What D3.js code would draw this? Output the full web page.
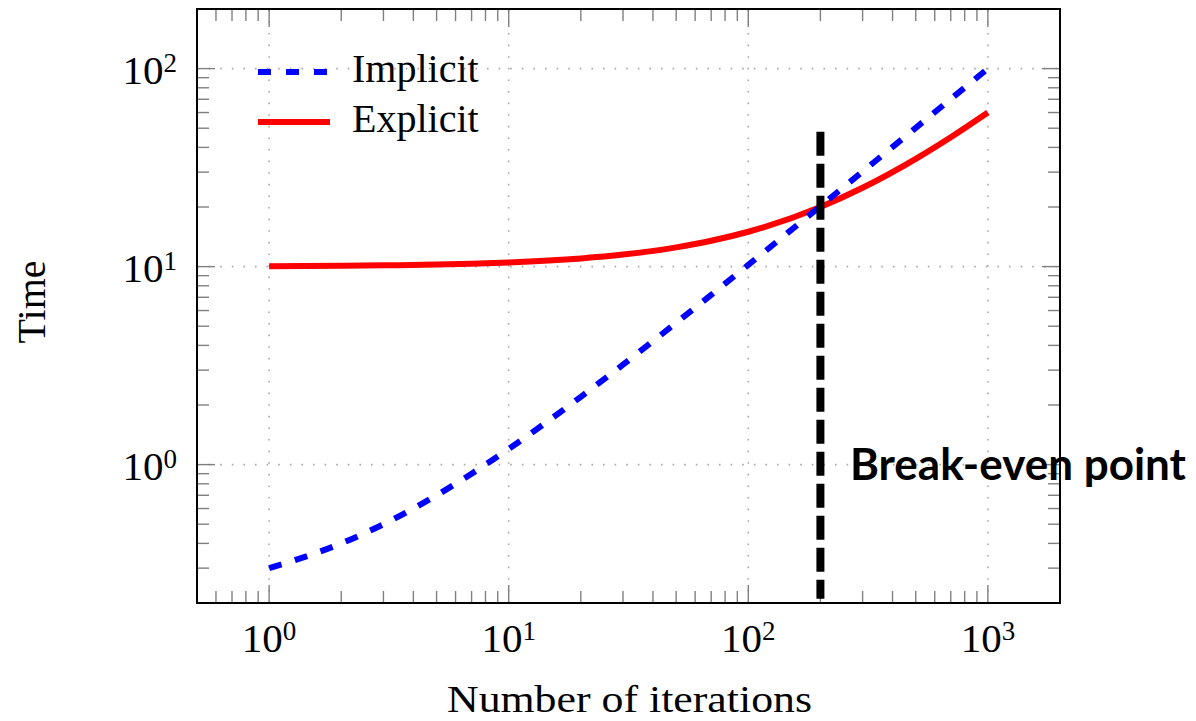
<!DOCTYPE html>
<html>
<head>
<meta charset="utf-8">
<script src="https://cdn.jsdelivr.net/npm/d3@7"></script>
<style>
  body { margin: 0; background: #fff; }
  text { font-family: "Liberation Serif", "DejaVu Serif", serif; fill: #000; }
</style>
</head>
<body>
<script>
// iterations sampled along the x axis
var iterations = [1, 2, 3, 5, 7, 10, 20, 30, 50, 70, 100, 200, 300, 500, 700, 1000];
// time
var implicitTime = [0.3, 0.4, 0.5, 0.7, 0.9, 1.2, 2.2, 3.2, 5.2, 7.2, 10.2, 20.2, 30.2, 50.2, 70.2, 100];
var explicitTime = [10.05, 10.1, 10.15, 10.25, 10.35, 10.5, 11, 11.5, 12.5, 13.5, 15, 20, 25, 35, 45, 60];
// break-even marker
var breakEvenX = [200, 200];
var breakEvenY = [0.21, 48];

var xTicks = [1, 10, 100, 1000];
var xTickExp = ["0", "1", "2", "3"];
var yTicks = [1, 10, 100];
var yTickExp = ["0", "1", "2"];
var seriesNames = ["Implicit", "Explicit"];

var W = 1196, H = 721;
var m = { left: 197, right: 1060, top: 9, bottom: 603 };

var svg = d3.select("body").append("svg")
    .attr("width", W)
    .attr("height", H);

var x = d3.scaleLog().domain([0.5, 2000]).range([m.left, m.right]);
var y = d3.scaleLog().domain([0.2, 200]).range([m.bottom, m.top]);

// minor ticks 2..9 per decade
var xMinor = [], yMinor = [];
[0.1, 1, 10, 100, 1000].forEach(function (d) {
    for (var k = 1; k <= 9; k++) {
        var v = +(d * k).toPrecision(3);
        if (v >= 0.5 && v <= 2000 && xTicks.indexOf(v) < 0) xMinor.push(v);
    }
});
[0.1, 1, 10, 100].forEach(function (d) {
    for (var k = 1; k <= 9; k++) {
        var v = +(d * k).toPrecision(3);
        if (v >= 0.2 && v <= 200 && yTicks.indexOf(v) < 0) yMinor.push(v);
    }
});

// grid
var grid = svg.append("g")
    .attr("stroke", "#a8a8a8")
    .attr("stroke-width", 1.6)
    .attr("stroke-dasharray", "1.6 10");
grid.selectAll(".gx").data(xTicks).enter().append("line")
    .attr("x1", function (d) { return x(d); })
    .attr("x2", function (d) { return x(d); })
    .attr("y1", m.bottom).attr("y2", m.top);
grid.selectAll(".gy").data(yTicks).enter().append("line")
    .attr("y1", function (d) { return y(d); })
    .attr("y2", function (d) { return y(d); })
    .attr("x1", m.left).attr("x2", m.right);

// inner ticks on all sides
var ticks = svg.append("g").attr("stroke", "#808080").attr("stroke-width", 1.4);
function xTickMarks(data, len) {
    ticks.append("g").selectAll("line").data(data).enter().append("line")
        .attr("x1", function (d) { return x(d); })
        .attr("x2", function (d) { return x(d); })
        .attr("y1", m.bottom).attr("y2", m.bottom - len);
    ticks.append("g").selectAll("line").data(data).enter().append("line")
        .attr("x1", function (d) { return x(d); })
        .attr("x2", function (d) { return x(d); })
        .attr("y1", m.top).attr("y2", m.top + len);
}
function yTickMarks(data, len) {
    ticks.append("g").selectAll("line").data(data).enter().append("line")
        .attr("y1", function (d) { return y(d); })
        .attr("y2", function (d) { return y(d); })
        .attr("x1", m.left).attr("x2", m.left + len);
    ticks.append("g").selectAll("line").data(data).enter().append("line")
        .attr("y1", function (d) { return y(d); })
        .attr("y2", function (d) { return y(d); })
        .attr("x1", m.right).attr("x2", m.right - len);
}
xTickMarks(xMinor, 12);
xTickMarks(xTicks, 18);
yTickMarks(yMinor, 12);
yTickMarks(yTicks, 18);

// curves
var line = d3.line()
    .x(function (d) { return x(d[0]); })
    .y(function (d) { return y(d[1]); })
    .curve(d3.curveMonotoneX);

svg.append("path")
    .datum(d3.zip(iterations, explicitTime))
    .attr("d", line)
    .attr("fill", "none")
    .attr("stroke", "#ff0000")
    .attr("stroke-width", 6);

svg.append("path")
    .datum(d3.zip(iterations, implicitTime))
    .attr("d", line)
    .attr("fill", "none")
    .attr("stroke", "#0000ff")
    .attr("stroke-width", 6)
    .attr("stroke-dasharray", "13 14");

// break-even marker
svg.append("path")
    .datum(d3.zip(breakEvenX, breakEvenY).reverse())
    .attr("d", d3.line().x(function (d) { return x(d[0]); }).y(function (d) { return y(d[1]); }))
    .attr("stroke", "#000")
    .attr("stroke-width", 8)
    .attr("stroke-dasharray", "24 8");

// frame
svg.append("rect")
    .attr("x", m.left).attr("y", m.top)
    .attr("width", m.right - m.left).attr("height", m.bottom - m.top)
    .attr("fill", "none")
    .attr("stroke", "#000")
    .attr("stroke-width", 2);

// tick labels
var xl = svg.append("g").selectAll("text").data(xTicks).enter().append("text")
    .attr("x", function (d) { return x(d); })
    .attr("y", 652)
    .attr("text-anchor", "middle")
    .style("font-size", "41px");
xl.append("tspan").text("10");
xl.append("tspan").attr("dy", -12).style("font-size", "27px")
    .text(function (d, i) { return xTickExp[i]; });

var yl = svg.append("g").selectAll("text").data(yTicks).enter().append("text")
    .attr("x", 177)
    .attr("y", function (d) { return y(d) + 15; })
    .attr("text-anchor", "end")
    .style("font-size", "41px");
yl.append("tspan").text("10");
yl.append("tspan").attr("dy", -12).style("font-size", "27px")
    .text(function (d, i) { return yTickExp[i]; });

// axis titles
svg.append("text")
    .attr("x", 447).attr("y", 712)
    .attr("textLength", 365)
    .attr("lengthAdjust", "spacingAndGlyphs")
    .style("font-size", "37px")
    .text("Number of iterations");

svg.append("text")
    .attr("transform", "translate(45,302) rotate(-90)")
    .attr("text-anchor", "middle")
    .style("font-size", "40px")
    .text("Time");

// legend
var legend = svg.append("g");
var legY = [72, 122];
legend.append("line")
    .attr("x1", 258).attr("x2", 330).attr("y1", legY[0]).attr("y2", legY[0])
    .attr("stroke", "#0000ff").attr("stroke-width", 6)
    .attr("stroke-dasharray", "13 15");
legend.append("line")
    .attr("x1", 258).attr("x2", 330).attr("y1", legY[1]).attr("y2", legY[1])
    .attr("stroke", "#ff0000").attr("stroke-width", 6);
legend.selectAll("text").data(seriesNames).enter().append("text")
    .attr("x", 352)
    .attr("y", function (d, i) { return legY[i] + 10; })
    .style("font-size", "40px")
    .text(function (d) { return d; });

// annotation
svg.append("text")
    .attr("x", 850).attr("y", 480)
    .attr("textLength", 336)
    .attr("lengthAdjust", "spacingAndGlyphs")
    .style("font-family", "Lato, 'Open Sans', sans-serif")
    .style("font-weight", "bold")
    .style("font-size", "44px")
    .text("Break-even point");
</script>
</body>
</html>
